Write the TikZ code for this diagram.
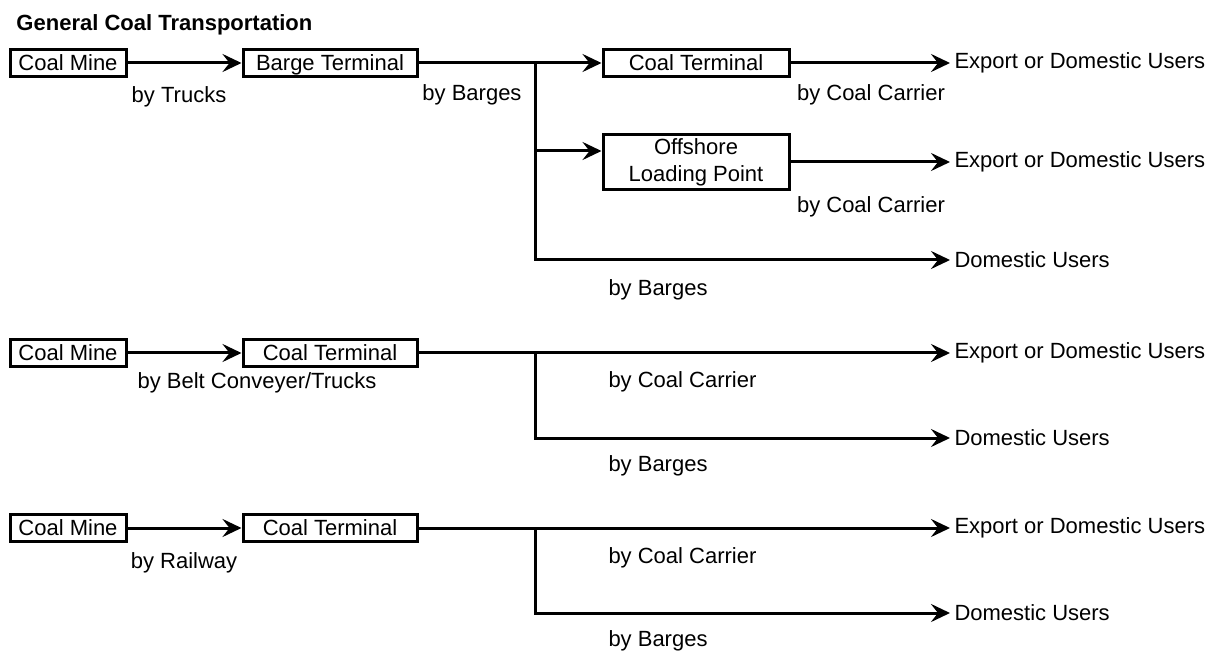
\documentclass[tikz,border=0pt]{standalone}
\usepackage{fontspec}
\setmainfont{Liberation Sans}
\usetikzlibrary{arrows.meta}

\begin{document}
\begin{tikzpicture}[x=0.5pt,y=-0.5pt,line width=1.5pt,
    font=\fontsize{11}{13.5}\selectfont,
    box/.style={draw,line width=1.5pt,minimum height=13.5pt,inner sep=0pt,align=center,
      text depth=0pt},
    flow/.style={-{Stealth[length=9.5pt,width=9pt,inset=3.5pt]}},
    user/.style={anchor=west,inner sep=1.5pt},
    lbl/.style={inner sep=0pt}]
    \useasboundingbox (0,0) rectangle (1216,652);
    \node[lbl,anchor=west,font=\fontsize{11}{13.5}\selectfont\bfseries] (title) at (15,25) {General Coal Transportation};
    % route by barges
    \node[box,minimum width=58pt] (mine1) at (68,63) {Coal Mine};
    \node[box,minimum width=87pt] (barge1) at (330,63) {Barge Terminal};
    \node[box,minimum width=93pt] (term1) at (696,63) {Coal Terminal};
    \node[box,minimum width=93pt,minimum height=27.5pt,text depth=] (off1) at (696,162) {Offshore\\Loading Point};
    \node[user] (exp1) at (950,63) {Export or Domestic Users};
    \node[user] (exp2) at (950,162) {Export or Domestic Users};
    \node[user] (dom1) at (950,260) {Domestic Users};
    \coordinate (j1) at (535,63);
    \draw[flow](mine1)--(barge1);
    \draw[flow](barge1)--(term1);
    \draw[flow](j1)|-([yshift=5.5pt]off1.west);
    \draw[flow](j1)|-(dom1.west);
    \draw[flow](term1)--(exp1);
    \draw[flow](off1)--(exp2);
    \node[lbl] at (179,97) {by Trucks};
    \node[lbl] at (472,95) {by Barges};
    \node[lbl] at (871,95) {by Coal Carrier};
    \node[lbl] at (871,207) {by Coal Carrier};
    \node[lbl,anchor=west] at (607,290) {by Barges};
    % route by belt conveyer
    \node[box,minimum width=58pt] (mine2) at (68,353) {Coal Mine};
    \node[box,minimum width=87pt] (term2) at (330,353) {Coal Terminal};
    \node[user] (exp3) at (950,353) {Export or Domestic Users};
    \node[user] (dom2) at (950,438) {Domestic Users};
    \coordinate (j2) at (535,353);
    \draw[flow](mine2)--(term2);
    \draw[flow](term2)--(exp3);
    \draw[flow](j2)|-(dom2.west);
    \node[lbl] at (257,383) {by Belt Conveyer/Trucks};
    \node[lbl,anchor=west] at (607,382) {by Coal Carrier};
    \node[lbl,anchor=west] at (607,466) {by Barges};
    % route by railway
    \node[box,minimum width=58pt] (mine3) at (68,528) {Coal Mine};
    \node[box,minimum width=87pt] (term3) at (330,528) {Coal Terminal};
    \node[user] (exp4) at (950,528) {Export or Domestic Users};
    \node[user] (dom3) at (950,613) {Domestic Users};
    \coordinate (j3) at (535,528);
    \draw[flow](mine3)--(term3);
    \draw[flow](term3)--(exp4);
    \draw[flow](j3)|-(dom3.west);
    \node[lbl] at (184,563) {by Railway};
    \node[lbl,anchor=west] at (607,558) {by Coal Carrier};
    \node[lbl,anchor=west] at (607,641) {by Barges};
\end{tikzpicture}
\end{document}
